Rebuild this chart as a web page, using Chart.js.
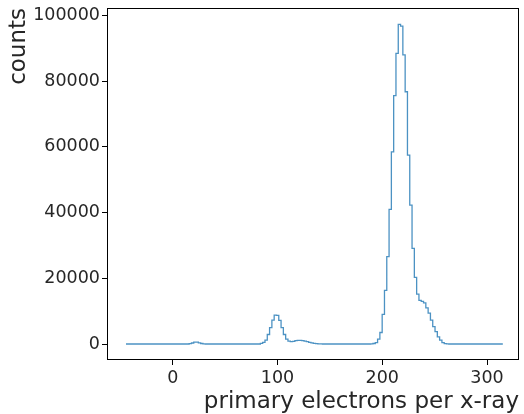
<!DOCTYPE html>
<html><head><meta charset="utf-8">
<script src="https://cdn.jsdelivr.net/npm/chart.js@4"></script>
<style>html,body{margin:0;padding:0;background:#fff}</style>
</head><body>
<canvas id="c" width="524" height="414"></canvas>
<script>
// histogram bins (bin centres start / width), counts per bin
const binStart = -44.6;
const binWidth = 2.193;
const counts = [
  0,0,0,0,0,0,0,0,0,0,
  0,0,0,0,0,0,0,0,0,0,
  0,0,0,0,0,0,0,0,100,300,
  550,600,350,150,50,0,0,0,0,0,
  0,0,0,0,0,0,0,0,0,0,
  0,0,0,0,0,0,0,0,0,200,
  500,1200,2900,5000,7300,8800,8700,7200,5000,2900,
  1500,900,700,800,1000,1100,1100,1000,900,700,
  500,350,200,120,60,30,0,0,0,0,
  0,0,0,0,0,0,0,0,0,0,
  0,0,0,0,0,0,0,50,150,400,
  1500,3500,9000,16300,26600,41000,58500,75600,88500,97300,
  96800,88000,76800,57500,42300,29100,20300,15200,13300,13000,
  12500,11000,9400,7300,5300,3750,2200,1200,400,100,
  50,0,0,0,0,0,0,0,0,0,
  0,0,0,0,0,0,0,0,0,0,
  0,0,0,0,0
];
const xTicks = [0, 100, 200, 300];
const yTicks = [0, 20000, 40000, 60000, 80000, 100000];
const xLabel = 'primary electrons per x-ray';
const yLabel = 'counts';

const points = counts.map((c, i) => ({ x: binStart + binWidth * i, y: c }));

const frame = {
  id: 'frame',
  afterDraw(chart) {
    const { ctx, chartArea: a } = chart;
    ctx.save();
    ctx.strokeStyle = '#000';
    ctx.lineWidth = 1;
    ctx.strokeRect(Math.round(a.left) + 0.5, Math.round(a.top) + 0.5,
      Math.round(a.right - a.left) - 1, Math.round(a.bottom - a.top) - 1);
    ctx.restore();
  }
};

const tickFont = { family: 'DejaVu Sans', size: 17.5 };
const titleFont = { family: 'DejaVu Sans', size: 23, lineHeight: 1.0 };

new Chart(document.getElementById('c'), {
  type: 'line',
  data: { datasets: [{
    data: points, borderColor: 'rgba(31,119,180,0.8)', borderWidth: 1.3,
    pointRadius: 0, stepped: 'middle', fill: false
  }] },
  options: {
    responsive: false, animation: false, devicePixelRatio: 1,
    layout: { padding: { left: 0, right: 5, top: 8, bottom: 0 } },
    plugins: { legend: { display: false }, tooltip: { enabled: false } },
    scales: {
      x: {
        type: 'linear', min: -62.7, max: 330.5,
        afterBuildTicks(s) { s.ticks = xTicks.map(v => ({ value: v })); },
        afterFit(s) { s.height = 54; s.paddingLeft = 0; s.paddingRight = 0; },
        grid: { display: true, drawOnChartArea: false, drawTicks: true, tickLength: 5, color: '#000' },
        border: { display: false },
        ticks: { color: '#262626', font: tickFont, padding: 3, maxRotation: 0, autoSkip: false,
                 callback: v => String(v) },
        title: { display: true, text: xLabel, align: 'end', color: '#262626', font: titleFont,
                 padding: { top: 0, bottom: 0 } }
      },
      y: {
        type: 'linear', min: -4870, max: 102300,
        afterBuildTicks(s) { s.ticks = yTicks.map(v => ({ value: v })); },
        afterFit(s) { s.width = 107; s.paddingTop = 0; s.paddingBottom = 0; },
        grid: { display: true, drawOnChartArea: false, drawTicks: true, tickLength: 5, color: '#000' },
        border: { display: false },
        ticks: { color: '#262626', font: tickFont, padding: 2, autoSkip: false,
                 callback: v => String(v) },
        title: { display: true, text: yLabel, align: 'end', color: '#262626', font: titleFont,
                 padding: { top: 8, bottom: 0 } }
      }
    }
  },
  plugins: [frame]
});
</script>
</body></html>
